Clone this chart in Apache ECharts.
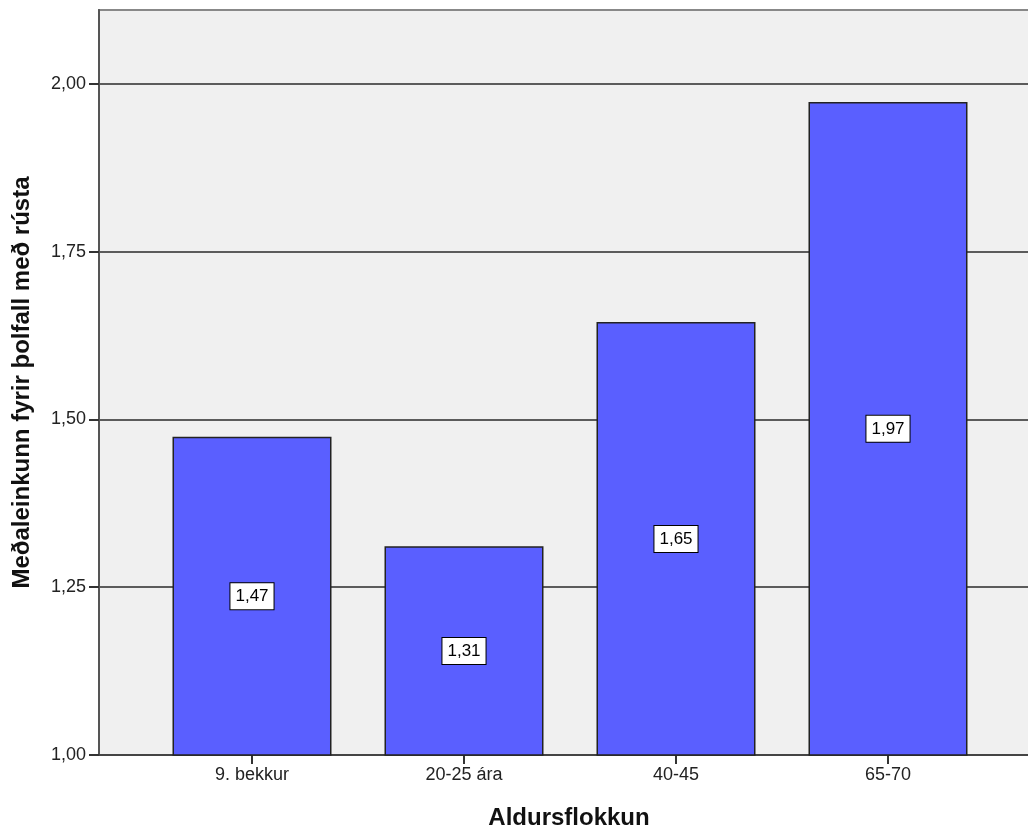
<!DOCTYPE html>
<html><head><meta charset="utf-8">
<script src="https://cdn.jsdelivr.net/npm/echarts@6/dist/echarts.min.js"></script>
<style>html,body{margin:0;padding:0;background:#fff}#c{width:1028px;height:829px}</style>
</head><body><div id="c"></div>
<script>
const categories = ['9. bekkur', '20-25 ára', '40-45', '65-70'];
const positions = [1, 2, 3, 4];
const meanValues = [1.474, 1.311, 1.645, 1.973];
const yTicks = [1.00, 1.25, 1.50, 1.75, 2.00];
const yTitle = 'Meðaleinkunn fyrir þolfall með rústa';
const xTitle = 'Aldursflokkun';

const fmt = v => v.toFixed(2).replace('.', ',');
const chart = echarts.init(document.getElementById('c'));
chart.setOption({
  animation: false,
  backgroundColor: '#fff',
  grid: { left: 99, top: 10, width: 940, height: 745, outerBoundsMode: 'none', containLabel: false, show: true, backgroundColor: '#f0f0f0', borderColor: '#888', borderWidth: 2 },
  xAxis: {
    type: 'value', min: 0.2783, max: 4.7123,
    name: xTitle, nameLocation: 'middle', nameGap: 51,
    nameTextStyle: { fontFamily: 'Liberation Sans', fontSize: 24, fontWeight: 'bold', color: '#111' },
    axisLine: { show: true, lineStyle: { color: '#444', width: 2 } },
    axisTick: { show: true, customValues: positions, length: 9, lineStyle: { color: '#333', width: 2 } },
    axisLabel: { customValues: positions, formatter: v => categories[Math.round(v) - 1] || '', fontFamily: 'Liberation Sans', fontSize: 18, color: '#222', margin: 11 },
    splitLine: { show: false }
  },
  yAxis: {
    type: 'value', min: 1, max: 2.11, interval: 0.25,
    name: yTitle, nameLocation: 'middle', nameGap: 65,
    nameTextStyle: { fontFamily: 'Liberation Sans', fontSize: 24, fontWeight: 'bold', color: '#111' },
    axisLine: { show: true, lineStyle: { color: '#555', width: 2 } },
    axisTick: { show: true, customValues: yTicks, length: 10, lineStyle: { color: '#333', width: 2 } },
    axisLabel: { customValues: yTicks, formatter: v => fmt(v), fontFamily: 'Liberation Sans', fontSize: 18, color: '#222', margin: 13 },
    splitLine: { show: true, lineStyle: { color: '#2a2a2a', width: 1.5 } }
  },
  series: [{
    type: 'bar',
    data: positions.map((p, i) => [p, meanValues[i]]),
    barWidth: 159,
    itemStyle: { color: '#5a5fff', borderColor: '#222', borderWidth: 1.5 },
    label: {
      show: true, position: 'inside',
      formatter: p => fmt(p.value[1]),
      fontFamily: 'Liberation Sans', fontSize: 17, color: '#000',
      backgroundColor: '#fff', borderColor: '#000', borderWidth: 1, padding: [5, 5, 4, 5]
    }
  }]
});
</script></body></html>
